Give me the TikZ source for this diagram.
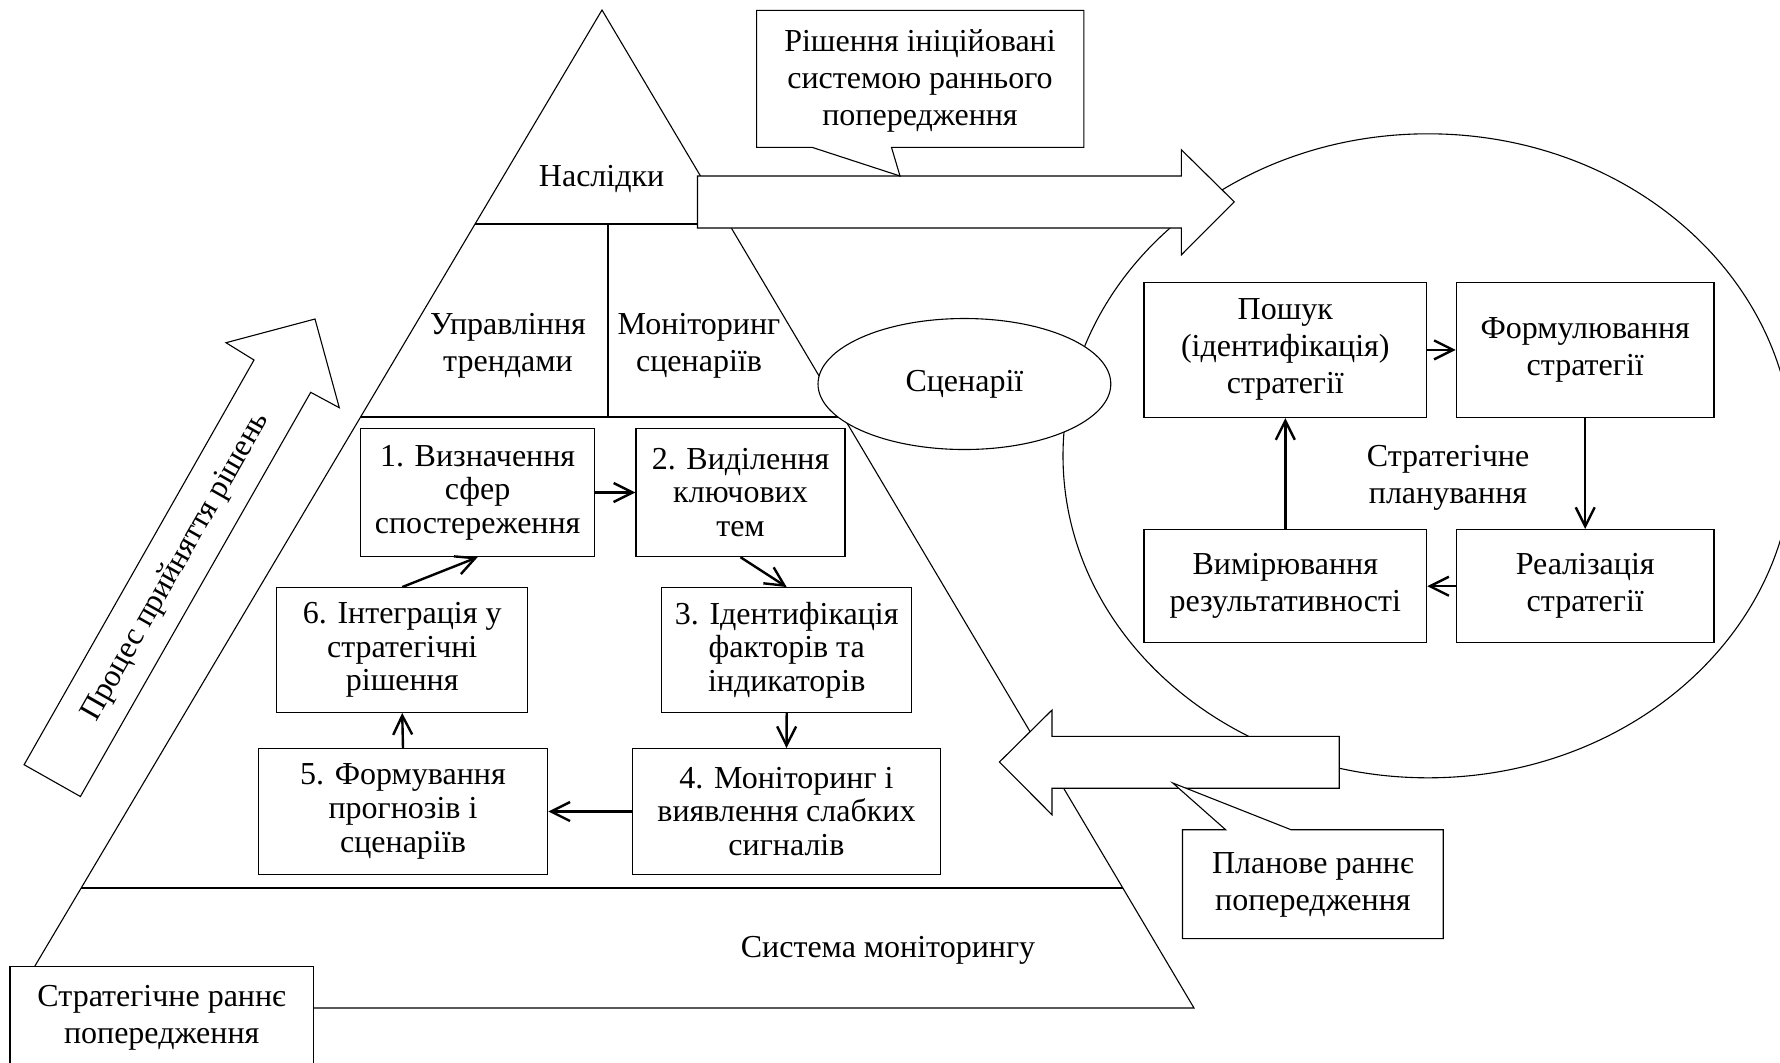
\documentclass[tikz,border=0pt]{standalone}
\usepackage{fontspec}
\setmainfont{Liberation Serif}
\usetikzlibrary{arrows.meta,calc}
\begin{document}
\begin{tikzpicture}[x=0.5pt,y=-0.5pt,
  thinl/.style={line width=0.55pt},
  divl/.style={line width=0.95pt},
  bx/.style={draw, line width=0.7pt, fill=white, align=center, inner sep=0pt,
    font=\fontsize{16}{18.5}\selectfont},
  stepbx/.style={bx, font=\fontsize{16}{16.8}\selectfont},
  sz/.style 2 args={minimum width=#1*0.5pt, minimum height=#2*0.5pt},
  lbl/.style={align=center, inner sep=0pt, font=\fontsize{16}{18.5}\selectfont},
  conn/.style={line width=1.2pt, -{Straight Barb[length=9.5pt,width=9.5pt]}},
  blk/.style={draw, line width=0.55pt, fill=white, line join=miter}
]
\useasboundingbox (0,0) rectangle (1780,1062);

% ---------- pyramid ----------
\coordinate (A) at (602,10);
\coordinate (BL) at (10,1008);
\coordinate (BR) at (1194,1008);
\draw[thinl] (A) -- (BL) -- (BR) -- cycle;
\draw[divl] ($(A)!0.2142!(BL)$) -- ($(A)!0.2142!(BR)$);
\draw[divl] ($(A)!0.4075!(BL)$) -- ($(A)!0.4075!(BR)$);
\draw[divl] ($(A)!0.8798!(BL)$) -- ($(A)!0.8798!(BR)$);
\draw[thinl] (608,223.8) -- (608,416.7);

\node[lbl] (nasl) at (601.6,179) {Наслідки};
\node[lbl] (uprt) at (508,346) {Управління\\трендами};
\node[lbl] (monsc) at (699,346) {Моніторинг\\сценаріїв};
\node[lbl] (sysmon) at (888,950) {Система моніторингу};

% ---------- strategic planning ellipse ----------
\draw[thinl] (1428,455.8) ellipse [x radius=182.5pt, y radius=161pt];

% ---------- scenarios ellipse ----------
\draw[thinl, fill=white] (964.4,384) ellipse [x radius=73.2pt, y radius=32.75pt];
\node[lbl] (scen) at (964.4,384) {Сценарії};

% ---------- top block arrow ----------
\draw[blk] (697.5,176) -- (1181.4,176) -- (1181.4,149.8) -- (1234.2,201.8)
  -- (1181.4,254.8) -- (1181.4,228) -- (697.5,228) -- cycle;

% ---------- top callout ----------
\draw[blk] (756.6,10.3) -- (1083.8,10.3) -- (1083.8,147.4) -- (891.5,147.4)
  -- (900,176) -- (812.3,147.4) -- (756.6,147.4) -- cycle;
\node[lbl] (calltop) at (920,81) {Рішення ініційовані\\системою раннього\\попередження};

% ---------- bottom block arrow ----------
\draw[blk] (1339.2,736.4) -- (1052,736.4) -- (1052,710) -- (999.4,762)
  -- (1052,814.8) -- (1052,788.2) -- (1339.2,788.2) -- cycle;

% ---------- bottom callout ----------
\draw[blk] (1182.5,829.7) -- (1225.6,829.7) -- (1172.8,783) -- (1291,829.7)
  -- (1443.2,829.7) -- (1443.2,938.6) -- (1182.5,938.6) -- cycle;
\node[lbl] (callbot) at (1312.9,885) {Планове раннє\\попередження};

% ---------- process arrow ----------
\draw[blk] (24.1,764.7) -- (254,360) -- (226,342.7) -- (315,319)
  -- (339.3,407.7) -- (310.7,392.3) -- (80.4,796.5) -- cycle;
\node[lbl, rotate=60.4, font=\fontsize{15.8}{19}\selectfont] (proc) at (176,567) {Процес прийняття рішень};

% ---------- step boxes ----------
\node[stepbx, sz={234}{128}] (b1) at (477.6,492.5) {1. Визначення\\сфер\\спостереження};
\node[stepbx, sz={209}{128}] (b2) at (740.5,492.5) {2. Виділення\\ключових\\тем};
\node[stepbx, sz={250}{124.5}] (b3) at (786.7,650) {3. Ідентифікація\\факторів та\\індикаторів};
\node[stepbx, sz={251}{124.5}] (b6) at (402.2,650) {6. Інтеграція у\\стратегічні\\рішення};
\node[stepbx, sz={307.7}{125.5}] (b4) at (786.5,811.5) {4. Моніторинг і\\виявлення слабких\\сигналів};
\node[stepbx, sz={289.3}{125.5}] (b5) at (403,811.5) {5. Формування\\прогнозів і\\сценаріїв};

\draw[conn] (b1.east) -- (b1.east -| b2.west);
\draw[conn] (b2.south) -- (b3.north);
\draw[conn] (b3.south) -- (b4.north);
\draw[conn] (b4.west) -- (b5.east);
\draw[conn] (b5.north) -- (b6.south);
\draw[conn] (b6.north) -- (b1.south);

% ---------- strategic boxes ----------
\node[bx, sz={282.5}{135}] (s1) at (1285.3,349.9) {Пошук\\(ідентифікація)\\стратегії};
\node[bx, sz={257.6}{135}] (s2) at (1585.2,349.9) {Формулювання\\стратегії};
\node[bx, sz={282.5}{113}] (s3) at (1285.3,586.2) {Вимірювання\\результативності};
\node[bx, sz={257.6}{113}] (s4) at (1585.2,586.2) {Реалізація\\стратегії};
\node[lbl] (stplan) at (1448,478) {Стратегічне\\планування};

\draw[conn] (s1.east) -- (s2.west);
\draw[conn] (s2.south) -- (s4.north);
\draw[conn] (s4.west) -- (s3.east);
\draw[conn] (s3.north) -- (s1.south);

% ---------- strategic early warning box ----------
\draw[thinl, fill=white] (10,1075) -- (10,966.7) -- (313.3,966.7) -- (313.3,1075);
\node[lbl] (srp) at (161.7,1017.7) {Стратегічне раннє\\попередження};
\end{tikzpicture}
\end{document}
